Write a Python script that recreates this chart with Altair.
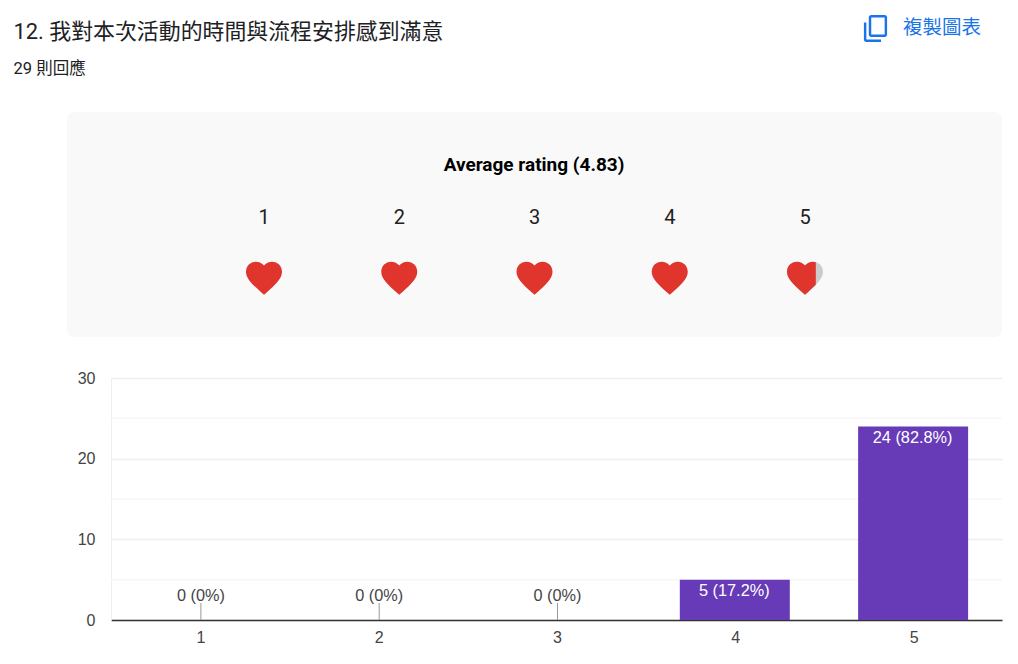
import altair as alt
import pandas as pd

TITLE = "12. 我對本次活動的時間與流程安排感到滿意"
RESPONSES = "29 則回應"
COPY_LABEL = "複製圖表"
AVERAGE_LABEL = "Average rating (4.83)"

ratings = ["1", "2", "3", "4", "5"]
counts = [0, 0, 0, 5, 24]
labels = ["0 (0%)", "0 (0%)", "0 (0%)", "5 (17.2%)", "24 (82.8%)"]
major_ticks = [0, 10, 20, 30]
minor_ticks = [5, 15, 25]
heart_positions = [1, 2, 3, 4, 5]

HEART = ("M0 9.35l-1.45-1.32C-6.6 3.36-10 .28-10-3.5-10-6.58-7.58-9-4.5-9"
         "c1.74 0 3.41.81 4.5 2.09C1.09-8.19 2.76-9 4.5-9 7.58-9 10-6.58 10-3.5"
         "c0 3.78-3.4 6.86-8.55 11.54L0 9.35z")
HEART_PART = ("M0 9.35l-1.45-1.32C-6.6 3.36-10 .28-10-3.5-10-6.58-7.58-9-4.5-9"
              "c1.74 0 3.41.81 4.5 2.09C1.09-8.19 2.76-9 4.5-9Q5.3-9 6-8.78"
              "L6 3.73 1.45 8.04 0 9.35z")
COPY_ICON = ("M4.5 11H-7.5c-1.1 0-2-.9-2-2v-14h2V9h12V11z"
             "m3-4H-3.5c-1.1 0-2-.9-2-2v-14c0-1.1.9-2 2-2h11c1.1 0 2 .9 2 2V5c0 1.1-.9 2-2 2z"
             "m0-16H-3.5V5h11v-14z")

UI_FONT = "Roboto, 'Noto Sans CJK TC', sans-serif"
CHART_FONT = "'Liberation Sans', Arial, sans-serif"
INK = "#202124"
CHART_INK = "#444444"
BLUE = "#1a73e8"
RED = "#df352d"

W, H = 891, 242
bars = pd.DataFrame({"rating": ratings, "count": counts, "label": labels})
hearts = pd.DataFrame({"pos": heart_positions, "label": ratings})
zero = bars[bars["count"] == 0]

x_band = alt.X("rating:N", sort=ratings,
               scale=alt.Scale(paddingInner=0.383, paddingOuter=0.19),
               axis=alt.Axis(title=None, labelAngle=0, labelFont=CHART_FONT, labelFontSize=16,
                             labelColor=CHART_INK, ticks=False, labelPadding=9, labelOffset=1,
                             domainColor="#333333", domainWidth=1.5))
y_main = alt.Y("count:Q", scale=alt.Scale(domain=[0, 30], nice=False),
               axis=alt.Axis(title=None, values=major_ticks, grid=True, gridColor="#eeeeee",
                             gridWidth=1.5, ticks=False, labelFont=CHART_FONT, labelFontSize=16,
                             labelColor=CHART_INK, labelPadding=16, domainColor="#eeeeee"))
x_heart = alt.X("pos:Q", axis=None, scale=alt.Scale(domain=[1, 5], range=[153, 694], nice=False, zero=False))


def text_at(value, px, py, **kw):
    return alt.Chart(pd.DataFrame({"t": [value]})).mark_text(**kw).encode(
        text="t:N", x=alt.value(px), y=alt.value(py))


panel = alt.Chart(pd.DataFrame({"a": [0]})).mark_rect(color="#f9f9f9", cornerRadius=7).encode(
    x=alt.value(-44), x2=alt.value(891), y=alt.value(-266), y2=alt.value(-41))
title = text_at(TITLE, -97.5, -346, font=UI_FONT, fontSize=21.9, color=INK, align="left", baseline="middle")
resp = text_at(RESPONSES, -97.5, -309, font=UI_FONT, fontSize=16.5, color=INK, align="left", baseline="middle")
copy = text_at(COPY_LABEL, 792, -350, font=UI_FONT, fontSize=19.5, color=BLUE, align="left", baseline="middle")
icon = alt.Chart(pd.DataFrame({"a": [0]})).mark_point(
    shape=COPY_ICON, filled=True, size=5.95, color=BLUE, opacity=1).encode(
    x=alt.value(764.5), y=alt.value(-349.5))
avg = text_at(AVERAGE_LABEL, 423, -213, font=UI_FONT, fontSize=19, fontWeight="bold", color="#000000",
              align="center", baseline="middle")

heart_text = alt.Chart(hearts).mark_text(font=UI_FONT, fontSize=20, color=INK, baseline="middle").encode(
    x=x_heart, y=alt.value(-160), text="label:N")
heart_full = alt.Chart(hearts[hearts.pos < 5]).mark_point(
    shape=HEART, filled=True, size=12.96, color=RED, opacity=1).encode(x=x_heart, y=alt.value(-100))
heart_bg = alt.Chart(hearts[hearts.pos == 5]).mark_point(
    shape=HEART, filled=True, size=12.96, color="#cccccc", opacity=1).encode(x=x_heart, y=alt.value(-100))
heart_fg = alt.Chart(hearts[hearts.pos == 5]).mark_point(
    shape=HEART_PART, filled=True, size=12.96, color=RED, opacity=1).encode(x=x_heart, y=alt.value(-100))

minor = alt.Chart(pd.DataFrame({"count": minor_ticks})).mark_rule(color="#f7f7f7", strokeWidth=1.5).encode(y=y_main)
bar = alt.Chart(bars).mark_bar(size=110, color="#673ab7").encode(x=x_band, y=y_main)
stems = alt.Chart(zero).mark_rule(color="#999999", strokeWidth=1, xOffset=1).encode(
    x=x_band, y=alt.value(225), y2=alt.value(242))
zero_text = alt.Chart(zero).mark_text(font=CHART_FONT, fontSize=16.3, color=CHART_INK, dx=1, dy=-24, baseline="middle").encode(
    x=x_band, y=y_main, text="label:N")
bar_text = alt.Chart(bars[bars["count"] > 0]).mark_text(font=CHART_FONT, fontSize=16.3, color="#ffffff", dx=-0.5, dy=11.5, baseline="middle").encode(
    x=x_band, y=y_main, text="label:N")

plot = alt.layer(minor, bar, stems, zero_text, bar_text)
heart_layer = alt.layer(heart_text, heart_bg, heart_fg, heart_full)

chart = alt.layer(panel, title, resp, copy, icon, avg, heart_layer, plot).resolve_scale(x="independent").properties(
    width=W, height=H, padding={"left": 103, "top": 370, "right": 8, "bottom": 30},
    autosize=alt.AutoSizeParams(type="none"),
    background="#ffffff",
).configure_view(stroke=None)

chart.save("out.html", embed_options={"renderer": "svg", "actions": False})
